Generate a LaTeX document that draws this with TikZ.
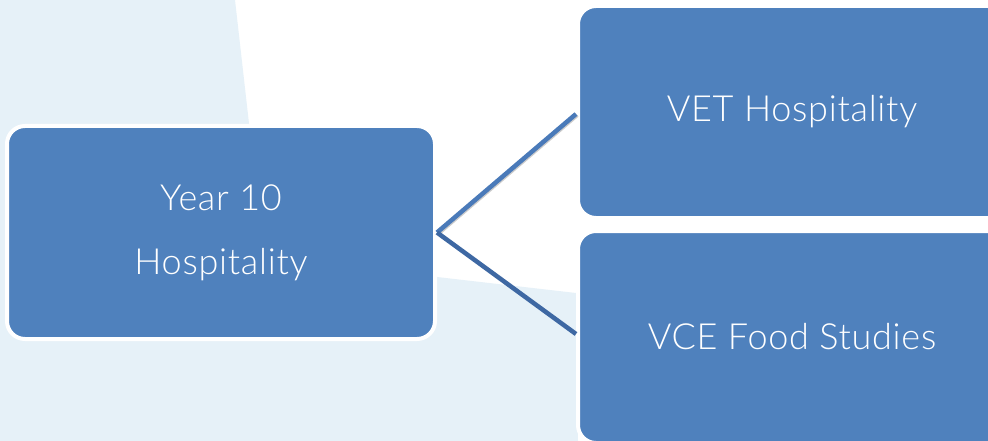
\documentclass[tikz,border=0pt]{standalone}
\usepackage{fontspec}
\setmainfont{Lato}[UprightFont = * Light, LetterSpace=2]
\definecolor{boxblue}{HTML}{4F81BD}
\definecolor{lineblue}{HTML}{4A7AB9}
\definecolor{linedark}{HTML}{3E68A3}
\definecolor{bgblue}{HTML}{E6F1F8}
\tikzset{
  card/.style={rectangle, rounded corners=18pt, fill=boxblue, draw=white, line width=4pt,
    text=white, font=\fontsize{36}{64}\selectfont, align=center, inner sep=0pt},
  upline/.style={draw=lineblue, line width=4.5pt,
    preaction={draw=black!45, opacity=0.45, line width=3pt, transform canvas={shift={(1.5pt,-1.5pt)}}}},
  lowline/.style={draw=linedark, line width=4.5pt}
}
\begin{document}
\begin{tikzpicture}[x=1pt,y=-1pt]
\useasboundingbox (0,0) rectangle (988,441);
\clip (0,0) rectangle (988,441);
\fill[white] (0,0) rectangle (988,441);
\fill[bgblue] (0,0) -- (235,0) -- (252,150) -- (437,277) -- (576,293) -- (578,441) -- (0,441) -- cycle;
\node[card, minimum width=428pt, minimum height=213pt] (year) at (221,232.5) {Year 10\\Hospitality};
\node[card, minimum width=428pt, minimum height=212pt] (vet) at (792,112) {VET Hospitality};
\node[card, minimum width=428pt, minimum height=212pt] (vce) at (792,337) {VCE Food Studies};
\draw[upline] (year.east) -- ([yshift=-2pt]vet.west);
\draw[lowline] (year.east) -- ([yshift=3pt]vce.west);
\end{tikzpicture}
\end{document}
